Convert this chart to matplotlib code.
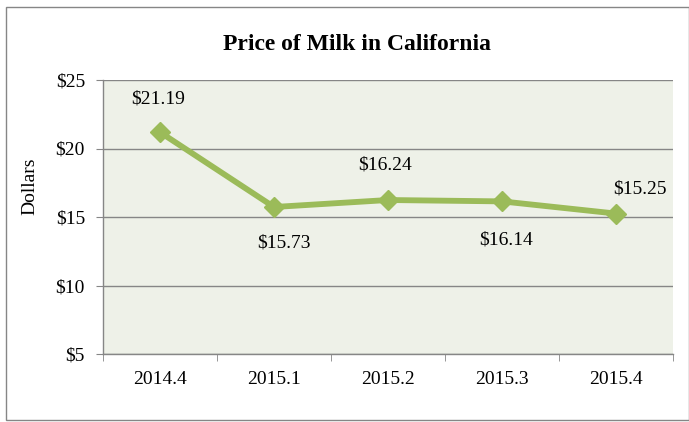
import matplotlib.pyplot as plt
from matplotlib.patches import Rectangle

quarters = ["2014.4", "2015.1", "2015.2", "2015.3", "2015.4"]
prices = [21.19, 15.73, 16.24, 16.14, 15.25]
yticks = [5, 10, 15, 20, 25]

plt.rcParams['font.family'] = ['Liberation Serif', 'DejaVu Serif']

W, H = 689, 422
fig = plt.figure(figsize=(W / 100, H / 100), dpi=100)
ax = fig.add_axes([103 / W, 1 - 354 / H, 570 / W, 274 / H])

green = '#9BBB59'
ax.set_facecolor('#EEF1E8')
x = list(range(len(quarters)))
ax.plot(x, prices, color=green, lw=4.2, marker='D', ms=10, mec=green, mfc=green,
        solid_joinstyle='miter', zorder=3)

# label offsets in points (Excel places them a bit unevenly)
offsets = [(-1.5, 24), (7, -26), (-2, 25), (3, -28), (17, 18)]
for xi, p, off in zip(x, prices, offsets):
    ax.annotate(f"${p:.2f}", (xi, p), xytext=off, textcoords='offset points',
                ha='center', va='center', fontsize=14)

ax.set_xlim(-0.5, len(quarters) - 0.5)
ax.set_ylim(5, 25)
ax.set_yticks(yticks)
ax.set_yticklabels([f"${v}" for v in yticks], fontsize=14)
ax.set_xticks(x)
ax.set_xticklabels(quarters, fontsize=14)
ax.tick_params(axis='x', length=0, pad=12)
ax.set_xticks([i - 0.5 for i in range(len(quarters) + 1)], minor=True)
ax.tick_params(axis='x', which='minor', length=5, color='#868686', direction='out')
ax.tick_params(axis='y', length=5, color='#868686', pad=8)
ax.grid(axis='y', color='#868686', lw=1)
ax.set_axisbelow(True)
for s in ['top', 'right']:
    ax.spines[s].set_visible(False)
for s in ['left', 'bottom']:
    ax.spines[s].set_color('#868686')
    ax.spines[s].set_linewidth(1)

fig.text(357 / W, 1 - 44 / H, "Price of Milk in California", ha='center', va='center',
         fontsize=17, fontweight='bold')
fig.text(30 / W, 1 - 186 / H, "Dollars", rotation=90, ha='center', va='center', fontsize=14)

fig.patches.append(Rectangle((6 / W, 2 / H), 1 - 6 / W, 413 / H, transform=fig.transFigure,
                             fill=False, ec='#868686', lw=1))

fig.savefig("out.png", dpi=100)
